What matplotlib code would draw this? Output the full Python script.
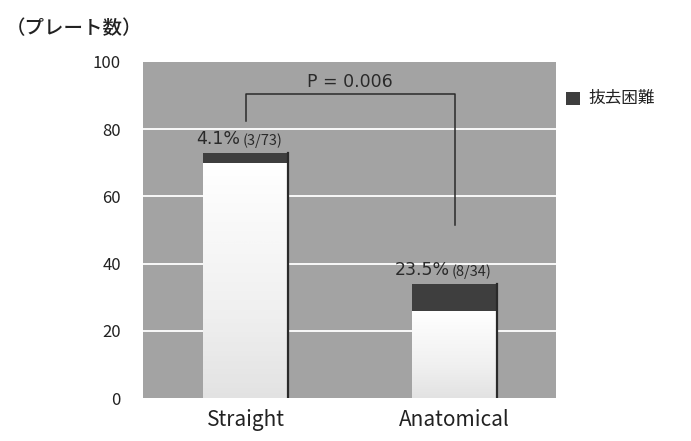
import numpy as np
import matplotlib.pyplot as plt

plt.rcParams['font.family'] = ['Noto Sans CJK JP', 'DejaVu Sans']

groups = ["Straight", "Anatomical"]
totals = [73, 34]
removal_difficult = [3, 8]
pct_labels = ["4.1%", "23.5%"]
frac_labels = ["(3/73)", "(8/34)"]
yticks = [0, 20, 40, 60, 80, 100]
p_text = "P = 0.006"
legend_label = "抜去困難"

fig = plt.figure(figsize=(6.91, 4.41), dpi=100)
ax = fig.add_axes([0.207, 0.0975, 0.598, 0.762])
ax.set_facecolor("#a3a3a3")
ax.set_xlim(-0.49, 1.486)
ax.set_ylim(0, 100)

for y in yticks[1:-1]:
    ax.axhline(y, color="white", lw=1.3, zorder=1)

width = 0.407
# white at the top fading to light grey at the base
grad = np.linspace(0.0, 0.2, 256).reshape(-1, 1)
x = np.arange(len(groups))
for i, (tot, bad) in enumerate(zip(totals, removal_difficult)):
    good = tot - bad
    left = x[i] - width / 2
    ax.imshow(grad, cmap="Greys", vmin=0, vmax=1, aspect="auto",
              extent=(left, left + width, 0, good), zorder=2)
    ax.bar(x[i], bad, width, bottom=good, color="#3e3e3e", zorder=3)
    ax.plot([left + width, left + width], [0, tot], color="#2a2a2a", lw=1.6, zorder=4)
    ax.text(x[i] - 0.025, tot + 1.5, pct_labels[i], ha="right", va="bottom",
            fontsize=12.5, color="#2a2a2a", family=["DejaVu Sans"])
    ax.text(x[i] - 0.015, tot + 1.5, frac_labels[i], ha="left", va="bottom",
            fontsize=10.5, color="#2a2a2a")

# significance bracket
ax.plot([0, 0, 1, 1], [82.5, 90.5, 90.5, 51.5], color="#2a2a2a", lw=1.1, zorder=4)
ax.text(0.5, 91.3, p_text, ha="center", va="bottom", fontsize=12.5,
        color="#2a2a2a", family=["DejaVu Sans"])

ax.set_xticks(x)
ax.set_xticklabels(groups, fontsize=15, color="#222222")
ax.set_yticks(yticks)
ax.set_yticklabels([str(t) for t in yticks], fontsize=12, color="#222222")
ax.tick_params(length=0, pad=16)
ax.tick_params(axis="x", pad=8)
for s in ax.spines.values():
    s.set_visible(False)

fig.text(0.008, 0.935, "（プレート数）", fontsize=14, fontweight="medium",
         color="#222222", ha="left", va="center")

# legend outside the plot
fig.patches.append(plt.Rectangle((0.819, 0.762), 0.02, 0.03, transform=fig.transFigure,
                                 facecolor="#3e3e3e", edgecolor="none"))
fig.text(0.851, 0.777, legend_label, fontsize=12, color="#222222", ha="left", va="center")

fig.savefig("out.png", dpi=100)
